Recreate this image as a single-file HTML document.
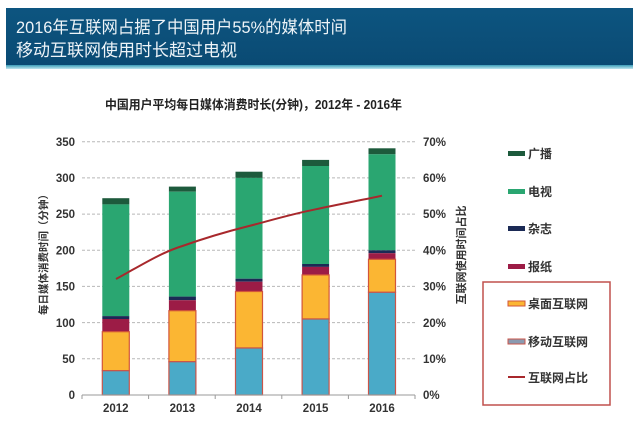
<!DOCTYPE html>
<html><head><meta charset="utf-8"><style>
html,body{margin:0;padding:0;background:#fff;}
svg{display:block;}
text{font-family:"Liberation Sans","Noto Sans CJK SC",sans-serif;}
</style></head><body>
<svg width="640" height="434" viewBox="0 0 640 434" xmlns="http://www.w3.org/2000/svg">
<defs>
<linearGradient id="hb" x1="0" y1="0" x2="0" y2="1">
<stop offset="0" stop-color="#0d5580"/><stop offset="1" stop-color="#0a4a73"/>
</linearGradient>
<linearGradient id="st" x1="0" y1="0" x2="0" y2="1">
<stop offset="0" stop-color="#3a9cb8"/><stop offset="1" stop-color="#bfe6ee"/>
</linearGradient>
</defs>
<rect x="0" y="0" width="640" height="434" fill="#fff"/>
<!-- header -->
<rect x="6" y="8" width="627" height="58" fill="url(#hb)"/>
<rect x="6" y="65" width="627" height="4" fill="url(#st)"/>
<text x="16" y="33" font-size="17" fill="#eef4f8" textLength="331" lengthAdjust="spacingAndGlyphs">2016年互联网占据了中国用户55%的媒体时间</text>
<text x="16" y="56" font-size="17" fill="#eef4f8" textLength="221" lengthAdjust="spacingAndGlyphs">移动互联网使用时长超过电视</text>
<!-- chart title -->
<text x="105" y="109" font-size="12.5" font-weight="bold" fill="#222" textLength="297" lengthAdjust="spacingAndGlyphs">中国用户平均每日媒体消费时长(分钟)，2012年  -  2016年</text>
<!-- gridlines -->
<g stroke="#b8b8b8" stroke-width="1" stroke-dasharray="3,2">
<line x1="82" y1="141.7" x2="415" y2="141.7"/>
<line x1="82" y1="177.9" x2="415" y2="177.9"/>
<line x1="82" y1="214.1" x2="415" y2="214.1"/>
<line x1="82" y1="250.3" x2="415" y2="250.3"/>
<line x1="82" y1="286.4" x2="415" y2="286.4"/>
<line x1="82" y1="322.6" x2="415" y2="322.6"/>
<line x1="82" y1="358.8" x2="415" y2="358.8"/>
</g>
<!-- bars -->
<g>
<!-- 2012 -->
<rect x="102.3" y="198.2" width="27" height="6.2" fill="#1d5a3c"/>
<rect x="102.3" y="204.4" width="27" height="111.7" fill="#2aa671"/>
<rect x="102.3" y="316.1" width="27" height="2.9" fill="#1b2a55"/>
<rect x="102.3" y="319" width="27" height="12.7" fill="#9c1c46"/>
<rect x="102.3" y="331.7" width="27" height="39" fill="#fbb633" stroke="#d2553a" stroke-width="1.2"/>
<rect x="102.3" y="370.7" width="27" height="24.3" fill="#4aaac8" stroke="#c9554a" stroke-width="1.2"/>
<!-- 2013 -->
<rect x="168.9" y="186.6" width="27" height="5.1" fill="#1d5a3c"/>
<rect x="168.9" y="191.7" width="27" height="104.9" fill="#2aa671"/>
<rect x="168.9" y="296.6" width="27" height="3.6" fill="#1b2a55"/>
<rect x="168.9" y="300.2" width="27" height="10.5" fill="#9c1c46"/>
<rect x="168.9" y="310.7" width="27" height="51" fill="#fbb633" stroke="#d2553a" stroke-width="1.2"/>
<rect x="168.9" y="361.7" width="27" height="33.3" fill="#4aaac8" stroke="#c9554a" stroke-width="1.2"/>
<!-- 2014 -->
<rect x="235.5" y="171.7" width="27" height="6.2" fill="#1d5a3c"/>
<rect x="235.5" y="177.9" width="27" height="100.8" fill="#2aa671"/>
<rect x="235.5" y="278.7" width="27" height="3" fill="#1b2a55"/>
<rect x="235.5" y="281.7" width="27" height="9.8" fill="#9c1c46"/>
<rect x="235.5" y="291.5" width="27" height="56.5" fill="#fbb633" stroke="#d2553a" stroke-width="1.2"/>
<rect x="235.5" y="348" width="27" height="47" fill="#4aaac8" stroke="#c9554a" stroke-width="1.2"/>
<!-- 2015 -->
<rect x="302.1" y="159.9" width="27" height="6.1" fill="#1d5a3c"/>
<rect x="302.1" y="166" width="27" height="98" fill="#2aa671"/>
<rect x="302.1" y="264" width="27" height="2.9" fill="#1b2a55"/>
<rect x="302.1" y="266.9" width="27" height="8" fill="#9c1c46"/>
<rect x="302.1" y="274.9" width="27" height="44.1" fill="#fbb633" stroke="#d2553a" stroke-width="1.2"/>
<rect x="302.1" y="319" width="27" height="76" fill="#4aaac8" stroke="#c9554a" stroke-width="1.2"/>
<!-- 2016 -->
<rect x="368.5" y="148.3" width="27" height="6" fill="#1d5a3c"/>
<rect x="368.5" y="154.3" width="27" height="96" fill="#2aa671"/>
<rect x="368.5" y="250.3" width="27" height="2.9" fill="#1b2a55"/>
<rect x="368.5" y="253.2" width="27" height="6.1" fill="#9c1c46"/>
<rect x="368.5" y="259.3" width="27" height="33" fill="#fbb633" stroke="#d2553a" stroke-width="1.2"/>
<rect x="368.5" y="292.3" width="27" height="102.7" fill="#4aaac8" stroke="#c9554a" stroke-width="1.2"/>
</g>
<!-- axis -->
<line x1="82" y1="395" x2="415" y2="395" stroke="#9a9a9a" stroke-width="1"/>
<g stroke="#9a9a9a" stroke-width="1">
<line x1="82" y1="395" x2="82" y2="399"/>
<line x1="148.6" y1="395" x2="148.6" y2="399"/>
<line x1="215.2" y1="395" x2="215.2" y2="399"/>
<line x1="281.8" y1="395" x2="281.8" y2="399"/>
<line x1="348.4" y1="395" x2="348.4" y2="399"/>
<line x1="415" y1="395" x2="415" y2="399"/>
</g>
<!-- line -->
<path d="M116,279 C140,266 160,253 182.4,246 C205,238 225,232 249,226 C272,220 292,214 315.6,209.3 C340,204 362,200 382,195.7" fill="none" stroke="#a8282c" stroke-width="2"/>
<!-- left tick labels -->
<g font-size="11.5" font-weight="bold" fill="#333" text-anchor="end">
<text x="75" y="146">350</text>
<text x="75" y="182">300</text>
<text x="75" y="218">250</text>
<text x="75" y="254.5">200</text>
<text x="75" y="290.5">150</text>
<text x="75" y="327">100</text>
<text x="75" y="363">50</text>
<text x="75" y="399">0</text>
</g>
<!-- right tick labels -->
<g font-size="11.5" font-weight="bold" fill="#333">
<text x="423" y="146">70%</text>
<text x="423" y="182">60%</text>
<text x="423" y="218">50%</text>
<text x="423" y="254.5">40%</text>
<text x="423" y="290.5">30%</text>
<text x="423" y="327">20%</text>
<text x="423" y="363">10%</text>
<text x="423" y="399">0%</text>
</g>
<!-- x labels -->
<g font-size="11.5" font-weight="bold" fill="#333" text-anchor="middle">
<text x="115.8" y="412">2012</text>
<text x="182.4" y="412">2013</text>
<text x="249" y="412">2014</text>
<text x="315.6" y="412">2015</text>
<text x="382" y="412">2016</text>
</g>
<!-- axis titles -->
<text transform="translate(47,252) rotate(-90)" font-size="10.5" font-weight="bold" fill="#333" text-anchor="middle">每日媒体消费时间（分钟）</text>
<text transform="translate(465,255) rotate(-90)" font-size="11" font-weight="bold" fill="#333" text-anchor="middle">互联网使用时间占比</text>
<!-- legend -->
<rect x="483" y="282" width="127" height="123" fill="none" stroke="#c0504d" stroke-width="1.5"/>
<g font-size="12" font-weight="bold" fill="#333">
<rect x="508" y="151" width="17" height="5" fill="#1d5a3c"/><text x="528" y="158">广播</text>
<rect x="508" y="189" width="17" height="5" fill="#2aa671"/><text x="528" y="196">电视</text>
<rect x="508" y="226" width="17" height="5" fill="#1b2a55"/><text x="528" y="233">杂志</text>
<rect x="508" y="264" width="17" height="5" fill="#9c1c46"/><text x="528" y="271">报纸</text>
<rect x="508" y="301" width="17" height="5" fill="#fbb633" stroke="#d2553a" stroke-width="1"/><text x="528" y="308">桌面互联网</text>
<rect x="508" y="339" width="17" height="5" fill="#8a9ab0" stroke="#c9554a" stroke-width="1"/><text x="528" y="346">移动互联网</text>
<line x1="508" y1="377" x2="525" y2="377" stroke="#a8282c" stroke-width="2"/><text x="528" y="382">互联网占比</text>
</g>
</svg>
</body></html>
